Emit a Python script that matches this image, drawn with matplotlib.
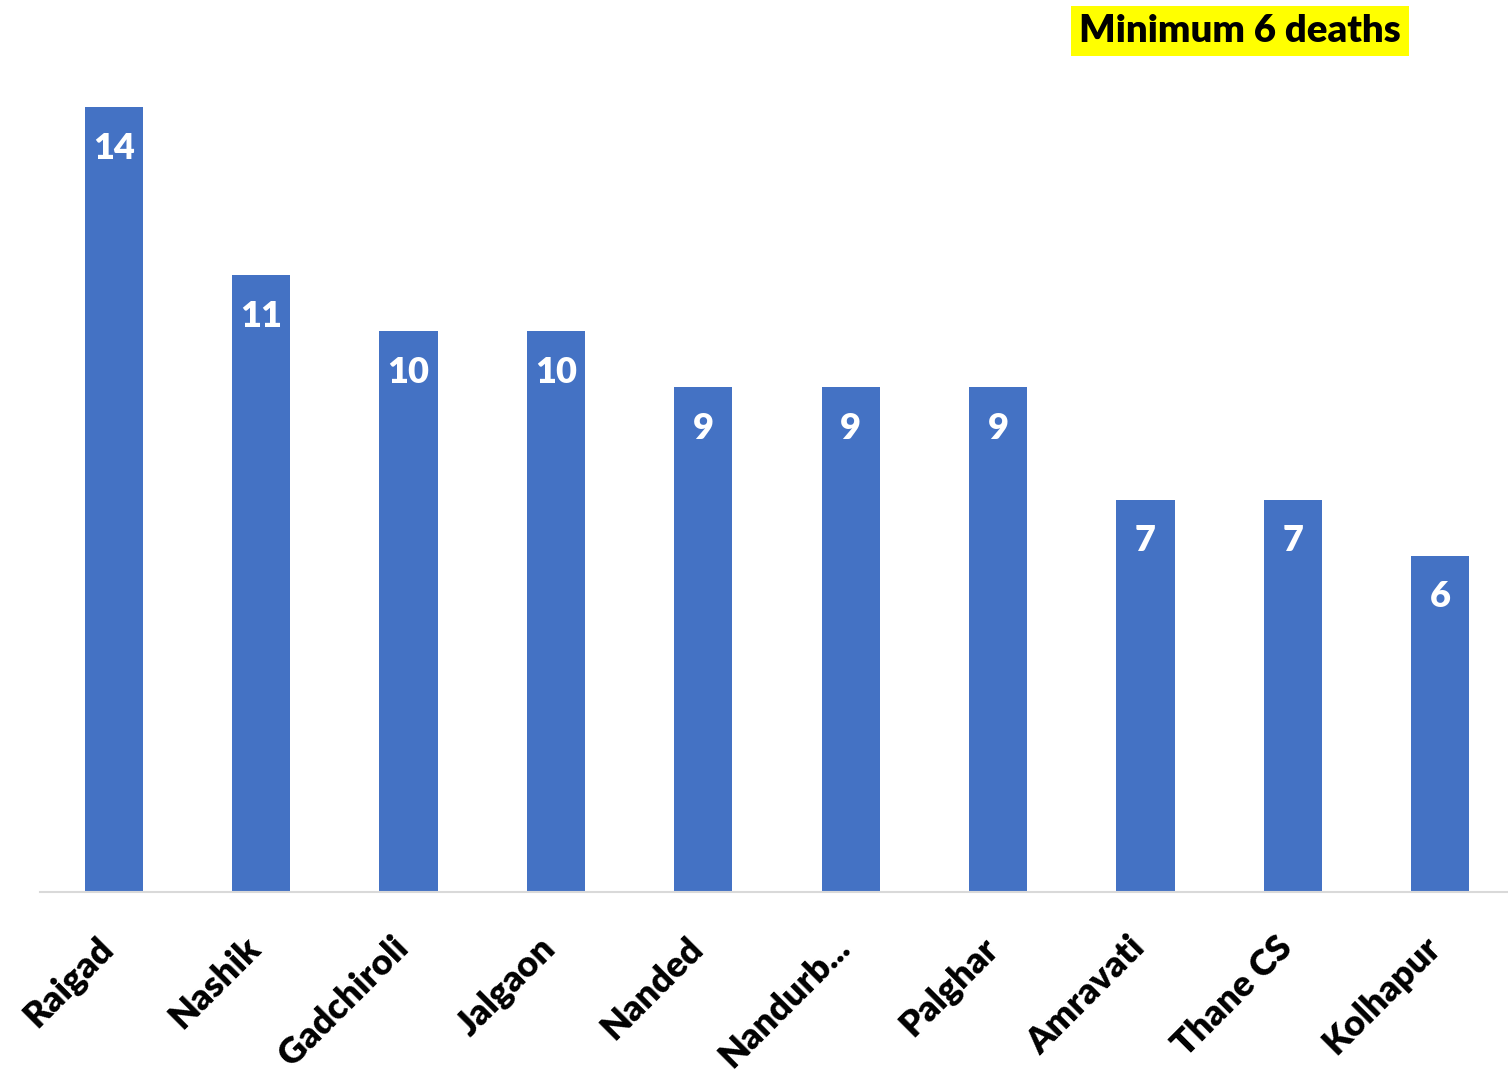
import matplotlib
matplotlib.use("Agg")
import matplotlib.pyplot as plt
import matplotlib.transforms as mtransforms

districts = ["Raigad", "Nashik", "Gadchiroli", "Jalgaon", "Nanded",
             "Nandurb...", "Palghar", "Amravati", "Thane CS", "Kolhapur"]
deaths = [14, 11, 10, 10, 9, 9, 9, 7, 7, 6]
title_text = "Minimum 6 deaths"

FONT = ["Lato", "DejaVu Sans"]
BLUE = "#4472C4"

W, H = 1508, 1074
fig = plt.figure(figsize=(W / 100, H / 100), dpi=100)
ax = fig.add_axes([40 / W, 182 / H, 1474 / W, 892 / H])

x = list(range(len(districts)))
bars = ax.bar(x, deaths, width=0.395, color=BLUE, zorder=2)
ax.set_xlim(-0.5, len(districts) - 0.5)
ax.set_ylim(0, 892 / 56.07)

for xi, v in zip(x, deaths):
    ax.annotate(str(v), (xi, v), xytext=(0, -41), textcoords="offset pixels",
                ha="center", va="center", color="white", fontsize=26,
                fontweight="heavy", family=FONT)

ax.set_xticks(x)
ax.set_xticklabels(districts, rotation=45, ha="right", fontsize=26,
                   fontweight="heavy", family=FONT)
ax.tick_params(axis="x", length=0, pad=28)
shift = mtransforms.ScaledTranslation(6 / 100, 0, fig.dpi_scale_trans)
for lbl in ax.get_xticklabels():
    lbl.set_transform(lbl.get_transform() + shift)
ax.set_yticks([])
for s in ["top", "left", "right"]:
    ax.spines[s].set_visible(False)
ax.spines["bottom"].set_color("#D9D9D9")
ax.spines["bottom"].set_linewidth(1.5)

fig.text(1240 / W, 1 - 31 / H, title_text, ha="center", va="center",
         fontsize=27.5, fontweight="heavy", family=FONT, color="black",
         bbox=dict(boxstyle="square,pad=0.2", facecolor="#FFFF00", edgecolor="none"))

fig.savefig("out.png", dpi=100)
